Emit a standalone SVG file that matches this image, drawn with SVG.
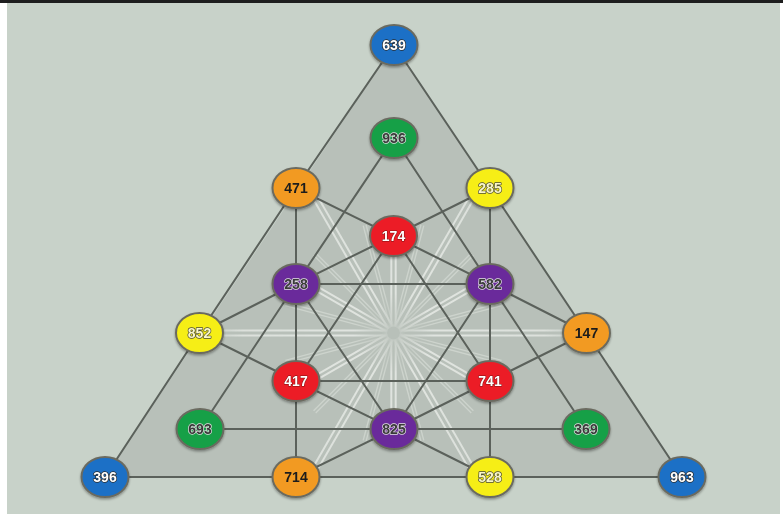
<svg xmlns="http://www.w3.org/2000/svg" xmlns:xlink="http://www.w3.org/1999/xlink" width="783" height="518" viewBox="0 0 783 518">
<style>
.edge{stroke:#5b615b;stroke-width:2;fill:none;stroke-linecap:round}
.node ellipse{stroke:#6b6b60;stroke-width:2;filter:url(#sh)}
.blue{fill:#1a6fc6}.green{fill:#16a046}.orange{fill:#f29a20}.yellow{fill:#f6ee14}.red{fill:#ec1d27}.purple{fill:#6a2b9b}
text{font-family:"Liberation Sans",Arial,sans-serif;font-size:14px;font-weight:bold;text-anchor:middle;paint-order:stroke;stroke-linejoin:round}
.tl{fill:#ffffff;stroke:#2a2a2a;stroke-width:1.4}
.tr{fill:#ffffff;stroke:#7a1010;stroke-width:1}
.td{fill:#3a3a3a;stroke:#e0e0e0;stroke-width:1.4}
.tb{fill:#1c1c1c}
.ty{fill:#fbf8c8;stroke:#4a4a3a;stroke-width:1.4}
.rl{stroke:#f6f8f4;stroke-width:2;stroke-opacity:0.65}
.rm{stroke:#f6f8f4;stroke-width:1.4;stroke-opacity:0.35}
</style>
<defs>
<filter id="sh" x="-30%" y="-30%" width="160%" height="170%">
<feDropShadow dx="0" dy="1.5" stdDeviation="1.2" flood-color="#000" flood-opacity="0.35"/>
</filter>
<radialGradient id="fade" gradientUnits="userSpaceOnUse" cx="393.5" cy="333" r="200">
<stop offset="0" stop-color="#fff" stop-opacity="0"/>
<stop offset="0.06" stop-color="#fff" stop-opacity="0.4"/>
<stop offset="0.2" stop-color="#fff" stop-opacity="1"/>
<stop offset="0.75" stop-color="#fff" stop-opacity="0.9"/>
<stop offset="1" stop-color="#fff" stop-opacity="0.1"/>
</radialGradient>
<mask id="rm" maskUnits="userSpaceOnUse" x="0" y="0" width="783" height="518">
<rect x="0" y="0" width="783" height="518" fill="url(#fade)"/>
</mask>
<g id="rL"><line class="rl" x1="399.5" y1="330.5" x2="565" y2="330.5"/><line class="rl" x1="399.5" y1="335.5" x2="565" y2="335.5"/></g>
<g id="rS"><line class="rl" x1="399.5" y1="330.8" x2="480" y2="330.8"/><line class="rl" x1="399.5" y1="335.2" x2="480" y2="335.2"/></g>
<g id="rM"><line class="rm" x1="399.5" y1="331.5" x2="505" y2="331.5"/><line class="rm" x1="399.5" y1="334.5" x2="505" y2="334.5"/></g>
</defs>
<rect x="0" y="0" width="783" height="518" fill="#ffffff"/>
<rect x="7" y="3" width="773" height="511" fill="#c8d2c9"/>
<rect x="0" y="0" width="783" height="3" fill="#1e1e1e"/>
<polygon points="394,45 105,477 682,477" fill="#b8c0b9"/>
<g id="rays" mask="url(#rm)">
<use xlink:href="#rL"/>
<use xlink:href="#rL" transform="rotate(180 393.5 333)"/>
<use xlink:href="#rL" transform="rotate(60 393.5 333)"/>
<use xlink:href="#rL" transform="rotate(120 393.5 333)"/>
<use xlink:href="#rL" transform="rotate(240 393.5 333)"/>
<use xlink:href="#rL" transform="rotate(300 393.5 333)"/>
<use xlink:href="#rS" transform="rotate(90 393.5 333)"/>
<use xlink:href="#rS" transform="rotate(270 393.5 333)"/>
<use xlink:href="#rS" transform="rotate(30 393.5 333)"/>
<use xlink:href="#rS" transform="rotate(150 393.5 333)"/>
<use xlink:href="#rS" transform="rotate(210 393.5 333)"/>
<use xlink:href="#rS" transform="rotate(330 393.5 333)"/>
<use xlink:href="#rM" transform="rotate(15 393.5 333)"/>
<use xlink:href="#rM" transform="rotate(45 393.5 333)"/>
<use xlink:href="#rM" transform="rotate(75 393.5 333)"/>
<use xlink:href="#rM" transform="rotate(105 393.5 333)"/>
<use xlink:href="#rM" transform="rotate(135 393.5 333)"/>
<use xlink:href="#rM" transform="rotate(165 393.5 333)"/>
<use xlink:href="#rM" transform="rotate(195 393.5 333)"/>
<use xlink:href="#rM" transform="rotate(225 393.5 333)"/>
<use xlink:href="#rM" transform="rotate(255 393.5 333)"/>
<use xlink:href="#rM" transform="rotate(285 393.5 333)"/>
<use xlink:href="#rM" transform="rotate(315 393.5 333)"/>
<use xlink:href="#rM" transform="rotate(345 393.5 333)"/>
</g>
<g id="connectors">
<polyline class="edge" points="394,45 296,188 199.5,333 105,477"/>
<polyline class="edge" points="394,45 490,188 586.5,333 682,477"/>
<line class="edge" x1="105" y1="477" x2="682" y2="477"/>
<polyline class="edge" points="394,138 296,284 200,429"/>
<polyline class="edge" points="394,138 490,284 586,429"/>
<line class="edge" x1="200" y1="429" x2="586" y2="429"/>
<line class="edge" x1="296" y1="188" x2="296" y2="477"/>
<line class="edge" x1="490" y1="188" x2="490" y2="477"/>
<polyline class="edge" points="199.5,333 296,381 394,429 490,477"/>
<polyline class="edge" points="586.5,333 490,381 394,429 296,477"/>
<polyline class="edge" points="296,188 393.5,236 490,284 586.5,333"/>
<polyline class="edge" points="490,188 393.5,236 296,284 199.5,333"/>
<line class="edge" x1="296" y1="284" x2="490" y2="284"/>
<line class="edge" x1="296" y1="381" x2="490" y2="381"/>
<line class="edge" x1="393.5" y1="236" x2="296" y2="381"/>
<line class="edge" x1="393.5" y1="236" x2="490" y2="381"/>
<line class="edge" x1="296" y1="284" x2="394" y2="429"/>
<line class="edge" x1="490" y1="284" x2="394" y2="429"/>
</g>
<g id="n639" class="node"><ellipse class="blue" cx="394" cy="45" rx="23.5" ry="20"/><text class="tl" x="394" y="50">639</text></g>
<g id="n936" class="node"><ellipse class="green" cx="394" cy="138" rx="23.5" ry="20"/><text class="td" x="394" y="143">936</text></g>
<g id="n471" class="node"><ellipse class="orange" cx="296" cy="188" rx="23.5" ry="20"/><text class="tb" x="296" y="193">471</text></g>
<g id="n285" class="node"><ellipse class="yellow" cx="490" cy="188" rx="23.5" ry="20"/><text class="ty" x="490" y="193">285</text></g>
<g id="n174" class="node"><ellipse class="red" cx="393.5" cy="236" rx="23.5" ry="20"/><text class="tr" x="393.5" y="241">174</text></g>
<g id="n258" class="node"><ellipse class="purple" cx="296" cy="284" rx="23.5" ry="20"/><text class="td" x="296" y="289">258</text></g>
<g id="n582" class="node"><ellipse class="purple" cx="490" cy="284" rx="23.5" ry="20"/><text class="td" x="490" y="289">582</text></g>
<g id="n852" class="node"><ellipse class="yellow" cx="199.5" cy="333" rx="23.5" ry="20"/><text class="ty" x="199.5" y="338">852</text></g>
<g id="n147" class="node"><ellipse class="orange" cx="586.5" cy="333" rx="23.5" ry="20"/><text class="tb" x="586.5" y="338">147</text></g>
<g id="n417" class="node"><ellipse class="red" cx="296" cy="381" rx="23.5" ry="20"/><text class="tr" x="296" y="386">417</text></g>
<g id="n741" class="node"><ellipse class="red" cx="490" cy="381" rx="23.5" ry="20"/><text class="tr" x="490" y="386">741</text></g>
<g id="n693" class="node"><ellipse class="green" cx="200" cy="429" rx="23.5" ry="20"/><text class="td" x="200" y="434">693</text></g>
<g id="n825" class="node"><ellipse class="purple" cx="394" cy="429" rx="23.5" ry="20"/><text class="td" x="394" y="434">825</text></g>
<g id="n369" class="node"><ellipse class="green" cx="586" cy="429" rx="23.5" ry="20"/><text class="td" x="586" y="434">369</text></g>
<g id="n396" class="node"><ellipse class="blue" cx="105" cy="477" rx="23.5" ry="20"/><text class="tl" x="105" y="482">396</text></g>
<g id="n714" class="node"><ellipse class="orange" cx="296" cy="477" rx="23.5" ry="20"/><text class="tb" x="296" y="482">714</text></g>
<g id="n528" class="node"><ellipse class="yellow" cx="490" cy="477" rx="23.5" ry="20"/><text class="ty" x="490" y="482">528</text></g>
<g id="n963" class="node"><ellipse class="blue" cx="682" cy="477" rx="23.5" ry="20"/><text class="tl" x="682" y="482">963</text></g>
</svg>
